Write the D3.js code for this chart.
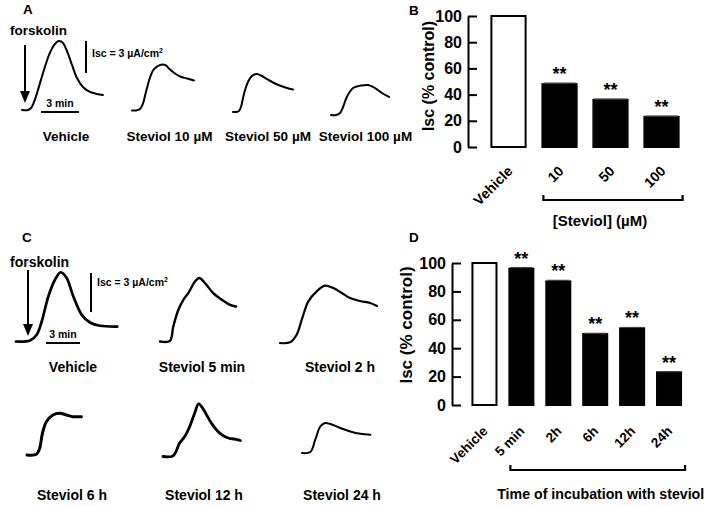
<!DOCTYPE html>
<html><head><meta charset="utf-8">
<script src="https://cdn.jsdelivr.net/npm/d3@7"></script>
<style>
body{margin:0;background:#fff}
svg{display:block}
text{font-family:"Liberation Sans",Arial,Helvetica,sans-serif;font-weight:bold;fill:#000}
</style>
</head><body>
<svg id="fig" width="709" height="506"></svg>
<script>
// ---------- DATA ----------
const doseCategories = ["Vehicle", "10", "50", "100"];
const doseValues = [100, 48, 36, 23];
const doseErrors = [0, 0.8, 0.6, 0.5];
const doseSig = ["", "**", "**", "**"];

const timeCategories = ["Vehicle", "5 min", "2h", "6h", "12h", "24h"];
const timeValues = [100, 96, 87, 50, 54, 23];
const timeErrors = [0, 0.8, 0.8, 0.5, 0.6, 0.5];
const timeSig = ["", "**", "**", "**", "**", "**"];

const yTicks = [0, 20, 40, 60, 80, 100];

// Isc traces: time (min) and current (µA/cm²) above baseline
const aVehicleT = [0,0.47,0.71,0.95,1.26,1.66,2.13,2.53,2.92,3.24,3.55,3.95,4.34,4.81,5.37,5.92,6.39];
const aVehicleI = [0,0,0.19,0.75,1.87,3.47,5.15,6.09,6.47,6.28,5.53,4.22,3.0,2.16,1.69,1.5,1.41];
const a10T = [0,0.32,0.63,0.87,1.03,1.26,1.42,1.66,1.97,2.37,2.68,3.0,3.39,3.79,4.34,4.89];
const a10I = [0,0,0.14,0.66,1.41,2.44,3.09,3.75,4.12,4.31,4.22,3.84,3.47,3.19,3.0,2.81];
const a50T = [0,0.24,0.47,0.63,0.79,0.95,1.18,1.42,1.66,1.89,2.21,2.68,3.24,3.79,4.26,4.74];
const a50I = [0,0,0.09,0.47,1.31,2.06,2.81,3.28,3.51,3.56,3.42,3.09,2.72,2.44,2.25,2.11];
const a100T = [0,0.39,0.71,0.95,1.18,1.42,1.74,2.05,2.37,2.92,3.47,4.03,4.58];
const a100I = [0,0,0.19,0.75,1.5,2.06,2.53,2.67,2.76,2.81,2.53,2.06,1.69];

const cVehicleT = [0,1.24,1.83,2.27,2.85,3.44,3.95,4.47,5.06,5.8,6.53,7.41,8.94];
const cVehicleI = [0,0.08,0.52,1.54,3.46,4.75,5.31,4.88,3.46,2.05,1.46,1.21,1.15];
const c5mT = [0,0.88,1.17,1.62,2.06,2.5,3.09,3.47,3.97,4.7,5.45,6.18,6.71];
const c5mI = [0,0.05,1.15,2.44,3.21,3.72,4.62,4.88,4.49,3.72,3.21,2.82,2.69];
const c2hT = [0,0.88,1.47,1.92,2.5,3.24,3.97,4.7,5.45,6.18,7.06,7.94,8.56];
const c2hI = [0,0.05,0.64,1.79,3.2,3.97,4.41,4.23,3.85,3.46,3.23,3.08,2.85];
const c6hT = [0,0.83,1.12,1.36,1.71,2.29,2.89,3.48,4.06,4.8];
const c6hI = [0,0.05,0.52,1.67,2.56,3.08,3.21,3.08,2.95,2.95];
const c12hT = [0,0.88,1.47,1.92,2.36,2.8,3.15,3.59,4.27,5.0,5.74,6.33,6.83];
const c12hI = [0,0.05,1.03,1.54,2.31,3.34,4.05,3.59,2.57,1.8,1.42,1.34,1.23];
const c24hT = [0,0.73,1.17,1.62,2.06,2.5,3.38,4.26,5.15,6.03];
const c24hI = [0,0.08,1.02,2.05,2.31,2.23,1.92,1.66,1.48,1.41];

const traceLabelsA = ["Vehicle", "Steviol 10 \u00b5M", "Steviol 50 \u00b5M", "Steviol 100 \u00b5M"];
const traceLabelsC = ["Vehicle", "Steviol 5 min", "Steviol 2 h", "Steviol 6 h", "Steviol 12 h", "Steviol 24 h"];

// ---------- LAYOUT ----------
const svg = d3.select("#fig");
const FONT = '"Liberation Sans",Arial,Helvetica,sans-serif';

function txt(x, y, s, size, anchor) {
  return svg.append("text").attr("x", x).attr("y", y).attr("font-size", size)
    .attr("text-anchor", anchor || "start").text(s);
}

// panel letters
txt(23, 14, "A", 13.5);
txt(409, 15, "B", 13.5);
txt(22, 242, "C", 13.5);
txt(409, 242, "D", 13.5);

// ---------- TRACES ----------
function tracePanel(cfg) {
  const xs = d3.scaleLinear().domain([0, 3]).range([0, cfg.pxPer3min]);
  const ys = d3.scaleLinear().domain([0, 3]).range([0, -cfg.pxPer3uA]);
  const line = d3.line().x(d => xs(d[0])).y(d => ys(d[1])).curve(d3.curveCatmullRom.alpha(0.5));
  cfg.traces.forEach(tr => {
    const pts = tr.t.map((v, k) => [v, tr.i[k]]);
    svg.append("path").attr("transform", `translate(${tr.x},${tr.y})`)
      .attr("d", line(pts)).attr("fill", "none").attr("stroke", "#000")
      .attr("stroke-width", tr.w).attr("stroke-linecap", "round").attr("stroke-linejoin", "round");
  });
  // arrow
  const ar = cfg.arrow;
  svg.append("line").attr("x1", ar.x).attr("x2", ar.x).attr("y1", ar.y1).attr("y2", ar.y2 - 8)
    .attr("stroke", "#000").attr("stroke-width", 2);
  svg.append("path").attr("d", `M${ar.x - 5},${ar.y2 - 12}L${ar.x + 5},${ar.y2 - 12}L${ar.x},${ar.y2}Z`).attr("fill", "#000");
  txt(cfg.forsk.x, cfg.forsk.y, "forskolin", cfg.forsk.size);
  // vertical scale bar (3 µA/cm²)
  const sb = cfg.vbar;
  svg.append("line").attr("x1", sb.x).attr("x2", sb.x).attr("y1", sb.y).attr("y2", sb.y - ys(3))
    .attr("stroke", "#000").attr("stroke-width", 2);
  const t = txt(sb.tx, sb.ty, "", 10.5);
  t.append("tspan").text("Isc = 3 \u00b5A/cm");
  t.append("tspan").attr("font-size", 7).attr("dy", -4).text("2");
  // horizontal scale bar (3 min)
  const hb = cfg.hbar;
  svg.append("line").attr("x1", hb.x).attr("x2", hb.x + xs(3)).attr("y1", hb.y).attr("y2", hb.y)
    .attr("stroke", "#000").attr("stroke-width", 2);
  txt(hb.x + xs(3) / 2, hb.y - 5, "3 min", 10.5, "middle");
  cfg.labels.forEach(l => txt(l.x, l.y, l.s, l.size, "middle"));
}

tracePanel({
  pxPer3min: 38, pxPer3uA: 32,
  traces: [
    {t: aVehicleT, i: aVehicleI, x: 22, y: 110, w: 2},
    {t: a10T, i: a10I, x: 132, y: 110.5, w: 2},
    {t: a50T, i: a50I, x: 233, y: 112, w: 2},
    {t: a100T, i: a100I, x: 331, y: 115, w: 2}
  ],
  arrow: {x: 25, y1: 45, y2: 103},
  forsk: {x: 10, y: 35, size: 13.5},
  vbar: {x: 86, y: 41, tx: 92, ty: 57},
  hbar: {x: 41, y: 112},
  labels: [
    {x: 66, y: 141, s: traceLabelsA[0], size: 13.5},
    {x: 169.5, y: 141, s: traceLabelsA[1], size: 13.5},
    {x: 268, y: 141, s: traceLabelsA[2], size: 13.5},
    {x: 365.5, y: 141, s: traceLabelsA[3], size: 13.5}
  ]
});

tracePanel({
  pxPer3min: 34, pxPer3uA: 39,
  traces: [
    {t: cVehicleT, i: cVehicleI, x: 16, y: 341.5, w: 2.7},
    {t: c5mT, i: c5mI, x: 160, y: 341.5, w: 2.4},
    {t: c2hT, i: c2hI, x: 280, y: 343, w: 2.2},
    {t: c6hT, i: c6hI, x: 27, y: 455, w: 3},
    {t: c12hT, i: c12hI, x: 163, y: 456.5, w: 2.8},
    {t: c24hT, i: c24hI, x: 302, y: 453, w: 2}
  ],
  arrow: {x: 28, y1: 270, y2: 336},
  forsk: {x: 10, y: 267, size: 14},
  vbar: {x: 91, y: 273, tx: 97, ty: 286},
  hbar: {x: 46, y: 343},
  labels: [
    {x: 73, y: 372, s: traceLabelsC[0], size: 14},
    {x: 202, y: 372, s: traceLabelsC[1], size: 14},
    {x: 340, y: 372, s: traceLabelsC[2], size: 14},
    {x: 72, y: 500, s: traceLabelsC[3], size: 14},
    {x: 204, y: 500, s: traceLabelsC[4], size: 14},
    {x: 342, y: 500, s: traceLabelsC[5], size: 14}
  ]
});

// ---------- BAR CHARTS ----------
function barPanel(cfg) {
  const x = d3.scaleBand().domain(cfg.cats).range(cfg.xr)
    .paddingInner(cfg.pad).paddingOuter(cfg.pad / 2);
  const y = d3.scaleLinear().domain([0, 100]).range(cfg.yr);
  const g = svg.append("g");
  // axis
  const ax = g.append("g").attr("transform", `translate(${cfg.axisX},0)`)
    .call(d3.axisLeft(y).tickValues(yTicks).tickSizeInner(-9).tickSizeOuter(0).tickPadding(6));
  ax.select(".domain").attr("stroke-width", 2);
  ax.selectAll(".tick line").attr("stroke-width", 2);
  ax.selectAll(".tick text").attr("font-size", 16).attr("font-family", FONT).attr("font-weight", "bold").attr("fill", "#000");
  // bars
  g.selectAll("rect.bar").data(cfg.vals).join("rect")
    .attr("x", (d, k) => x(cfg.cats[k]) + 1)
    .attr("width", x.bandwidth() - 2)
    .attr("y", d => y(d))
    .attr("height", d => y(0) - y(d))
    .attr("fill", (d, k) => k === 0 ? "#fff" : "#000")
    .attr("stroke", "#000").attr("stroke-width", 2);
  // error caps
  cfg.vals.forEach((d, k) => {
    if (!cfg.errs[k]) return;
    const cx = x(cfg.cats[k]) + x.bandwidth() / 2;
    g.append("line").attr("x1", cx).attr("x2", cx).attr("y1", y(d)).attr("y2", y(d + cfg.errs[k]))
      .attr("stroke", "#333").attr("stroke-width", 1.2);
    g.append("line").attr("x1", cx - x.bandwidth() / 2 + 2).attr("x2", cx + x.bandwidth() / 2 - 2)
      .attr("y1", y(d + cfg.errs[k])).attr("y2", y(d + cfg.errs[k]))
      .attr("stroke", "#444").attr("stroke-width", 1.2);
    // significance
    txt(cx, y(d + cfg.errs[k]) - 3, cfg.sig[k], 18, "middle");
  });
  // category labels
  cfg.cats.forEach((c, k) => {
    const cx = x(c) + x.bandwidth() / 2 + cfg.lblDx;
    const ly = y(0) + cfg.lblDy;
    svg.append("text").attr("transform", `translate(${cx},${ly}) rotate(-45)`)
      .attr("text-anchor", "end").attr("font-size", cfg.lblSize).text(c);
  });
  // y label
  svg.append("text").attr("transform", `translate(${cfg.ylab.x},${cfg.ylab.y}) rotate(-90)`)
    .attr("text-anchor", "middle").attr("font-size", cfg.ylab.size).text("Isc (% control)");
  // bracket under treated groups
  const b = cfg.bracket;
  const bx1 = x(cfg.cats[1]) + 2, bx2 = x(cfg.cats[cfg.cats.length - 1]) + x.bandwidth() + 3;
  svg.append("path").attr("d", `M${bx1},${b.y - 5}V${b.y}H${bx2}V${b.y - 5}`)
    .attr("fill", "none").attr("stroke", "#000").attr("stroke-width", 2.2);
  txt((bx1 + bx2) / 2 + b.dx, b.ty, b.text, b.size, "middle");
}

barPanel({
  cats: doseCategories, vals: doseValues, errs: doseErrors, sig: doseSig,
  xr: [483, 687], pad: 0.29, yr: [147, 16], axisX: 468,
  lblDx: 5, lblDy: 25, lblSize: 14,
  ylab: {x: 434, y: 76, size: 16},
  bracket: {y: 200, ty: 226, text: "[Steviol] (\u00b5M)", size: 15, dx: -13}
});

barPanel({
  cats: timeCategories, vals: timeValues, errs: timeErrors, sig: timeSig,
  xr: [466, 687.5], pad: 0.295, yr: [405, 263], axisX: 452,
  lblDx: 4, lblDy: 27, lblSize: 13.5,
  ylab: {x: 412, y: 325, size: 17},
  bracket: {y: 470, ty: 499, text: "Time of incubation with steviol", size: 14.2, dx: 3}
});
</script>
</body></html>
